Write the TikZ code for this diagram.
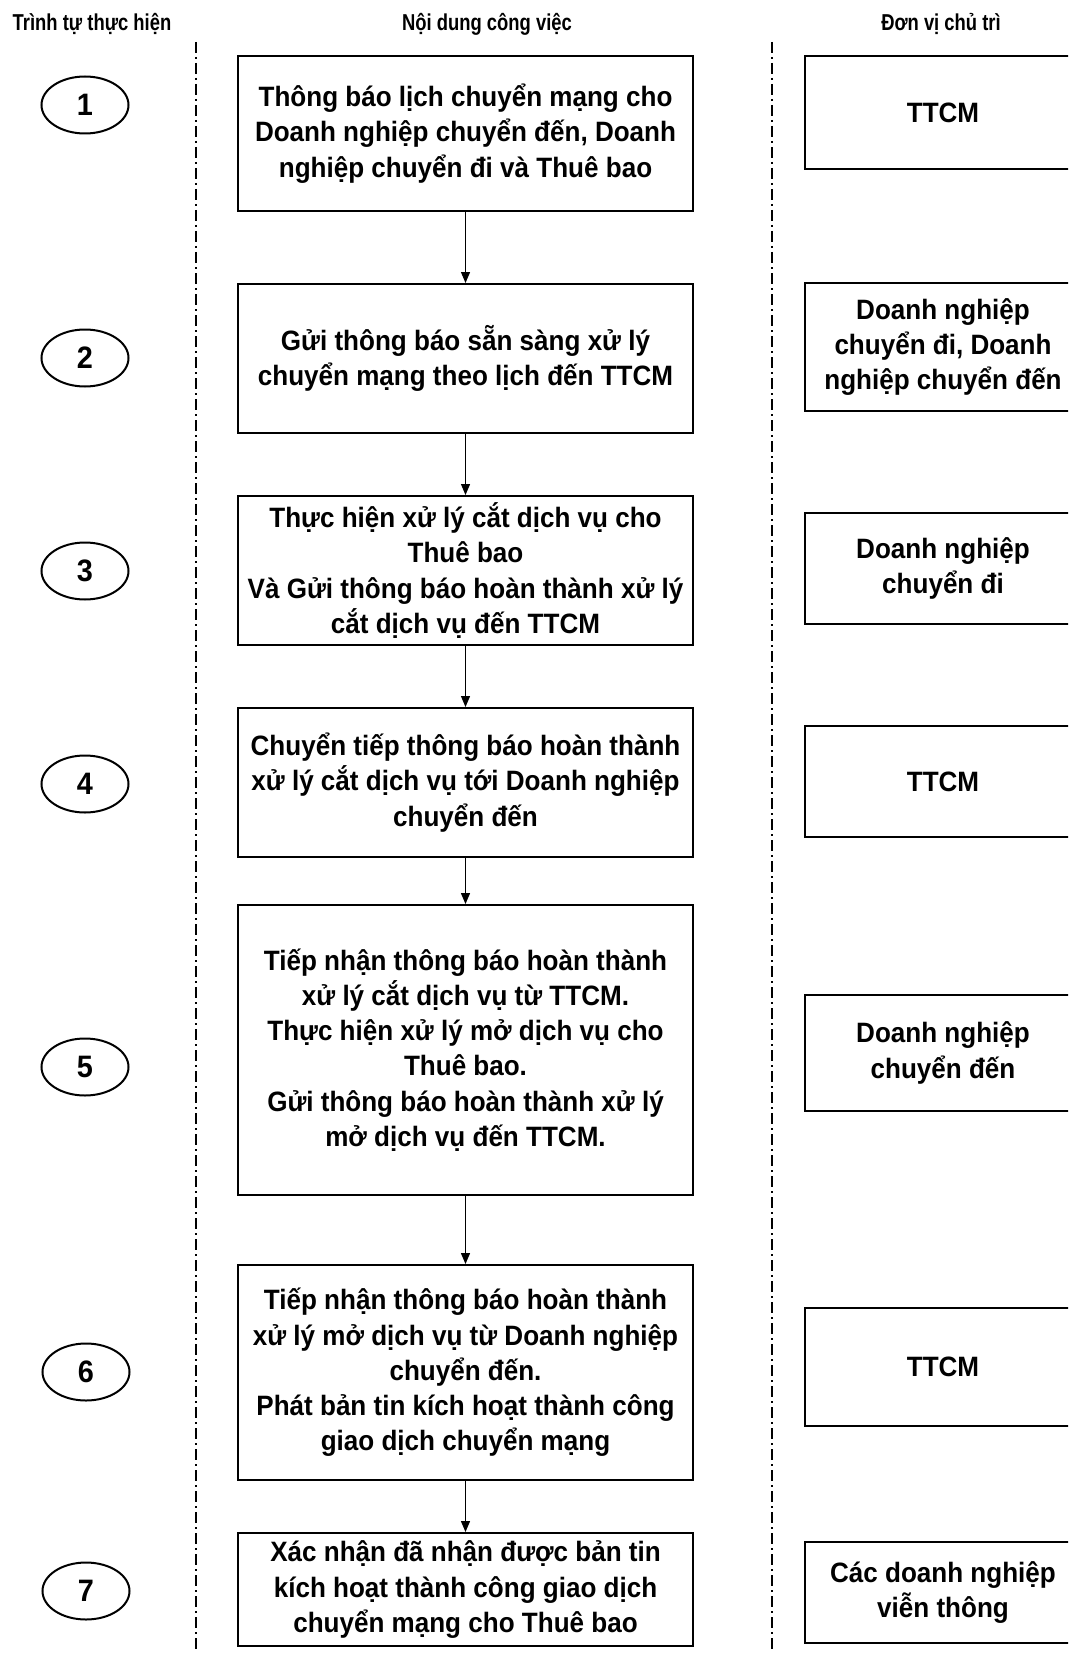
\documentclass[tikz,border=0pt]{standalone}
\usepackage{fontspec}
\setmainfont{Liberation Sans}[FakeStretch=0.93]
\newfontfamily\hdrfont{Liberation Sans}[FakeStretch=0.8]
\usetikzlibrary{shapes.geometric,arrows.meta}
\begin{document}
\begin{tikzpicture}[x=1pt,y=-1pt,
  hdr/.style={font=\hdrfont\bfseries\fontsize{23}{26}\selectfont, inner sep=0pt},
  boxtext/.style={font=\bfseries\fontsize{28}{35.3}\selectfont, align=center},
  mainbox/.style={boxtext, draw, line width=2pt, minimum width=455pt, inner sep=0pt},
  rightbox/.style={boxtext, draw, line width=2pt, minimum width=276pt, inner sep=0pt},
  stepnum/.style={ellipse, draw, line width=2pt, minimum width=87pt, minimum height=57pt, inner sep=0pt, font=\bfseries\fontsize{31}{34}\selectfont},
  sep/.style={line width=2pt, dash pattern=on 11pt off 4pt on 2pt off 4pt},
  arr/.style={line width=1.3pt, -{Triangle[length=11pt,width=9pt]}}
]
\useasboundingbox (0,0) rectangle (1068,1653);
\fill[white] (0,0) rectangle (1068,1653);
\clip (0,0) rectangle (1068,1653);

% headers
\node[hdr] (h1) at (92,24) {Trình tự thực hiện};
\node[hdr] (h2) at (487,24) {Nội dung công việc};
\node[hdr] (h3) at (941,24) {Đơn vị chủ trì};

% separators
\coordinate (s1a) at (196,42);
\coordinate (s1b) at (196,1653);
\coordinate (s2a) at (772,42);
\coordinate (s2b) at (772,1653);
\draw[sep] (s1a) -- (s1b);
\draw[sep] (s2a) -- (s2b);

% step numbers
\node[stepnum] (n1) at (85,105) {1};
\node[stepnum] (n2) at (85,358) {2};
\node[stepnum] (n3) at (85,571) {3};
\node[stepnum] (n4) at (85,784) {4};
\node[stepnum] (n5) at (85,1067) {5};
\node[stepnum] (n6) at (86,1372) {6};
\node[stepnum] (n7) at (86,1591) {7};

% main boxes
\node[mainbox, minimum height=155pt] (b1) at (465.5,133.5)
  {Thông báo lịch chuyển mạng cho\\Doanh nghiệp chuyển đến, Doanh\\nghiệp chuyển đi và Thuê bao};
\node[mainbox, minimum height=149pt] (b2) at (465.5,358.5)
  {Gửi thông báo sẵn sàng xử lý\\chuyển mạng theo lịch đến TTCM};
\node[mainbox, minimum height=149pt] (b3) at (465.5,570.5)
  {Thực hiện xử lý cắt dịch vụ cho\\Thuê bao\\Và Gửi thông báo hoàn thành xử lý\\cắt dịch vụ đến TTCM};
\node[mainbox, minimum height=149pt] (b4) at (465.5,782.5)
  {Chuyển tiếp thông báo hoàn thành\\xử lý cắt dịch vụ tới Doanh nghiệp\\chuyển đến};
\node[mainbox, minimum height=290pt] (b5) at (465.5,1050)
  {Tiếp nhận thông báo hoàn thành\\xử lý cắt dịch vụ từ TTCM.\\Thực hiện xử lý mở dịch vụ cho\\Thuê bao.\\Gửi thông báo hoàn thành xử lý\\mở dịch vụ đến TTCM.};
\node[mainbox, minimum height=215pt] (b6) at (465.5,1372.5)
  {Tiếp nhận thông báo hoàn thành\\xử lý mở dịch vụ từ Doanh nghiệp\\chuyển đến.\\Phát bản tin kích hoạt thành công\\giao dịch chuyển mạng};
\node[mainbox, minimum height=113pt] (b7) at (465.5,1589.5)
  {Xác nhận đã nhận được bản tin\\kích hoạt thành công giao dịch\\chuyển mạng cho Thuê bao};

% arrows
\draw[arr] (b1) -- (b2);
\draw[arr] (b2) -- (b3);
\draw[arr] (b3) -- (b4);
\draw[arr] (b4) -- (b5);
\draw[arr] (b5) -- (b6);
\draw[arr] (b6) -- (b7);

% right boxes
\node[rightbox, minimum height=113pt] (r1) at (943,112.5) {TTCM};
\node[rightbox, minimum height=128pt] (r2) at (943,347) {Doanh nghiệp\\chuyển đi, Doanh\\nghiệp chuyển đến};
\node[rightbox, minimum height=111pt] (r3) at (943,568.5) {Doanh nghiệp\\chuyển đi};
\node[rightbox, minimum height=111pt] (r4) at (943,781.5) {TTCM};
\node[rightbox, minimum height=116pt] (r5) at (943,1053) {Doanh nghiệp\\chuyển đến};
\node[rightbox, minimum height=118pt] (r6) at (943,1367) {TTCM};
\node[rightbox, minimum height=101pt] (r7) at (943,1592.5) {Các doanh nghiệp\\viễn thông};
\end{tikzpicture}
\end{document}
